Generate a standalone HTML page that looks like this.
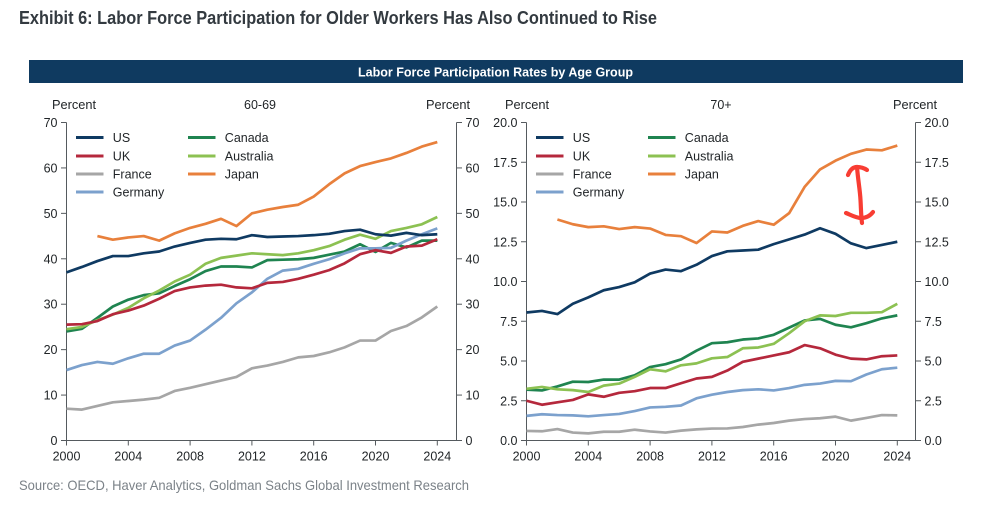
<!DOCTYPE html>
<html lang="en">
<head>
<meta charset="utf-8">
<title>Exhibit 6</title>
<style>
html,body{margin:0;padding:0;background:#fff;}
body{width:989px;height:509px;overflow:hidden;}
svg{display:block;font-family:"Liberation Sans",Arial,sans-serif;}
</style>
</head>
<body>
<svg id="root" width="989" height="509" viewBox="0 0 989 509" xmlns="http://www.w3.org/2000/svg">
  <rect x="0" y="0" width="989" height="509" fill="#ffffff"/>
  <text x="19" y="24" font-size="18" font-weight="700" fill="#333a40" textLength="638" lengthAdjust="spacingAndGlyphs">Exhibit 6: Labor Force Participation for Older Workers Has Also Continued to Rise</text>
  <rect x="29" y="60" width="934" height="23" fill="#0f3a60"/>
  <text x="358" y="76.500" font-size="12.500" font-weight="700" fill="#ffffff" textLength="275" lengthAdjust="spacingAndGlyphs">Labor Force Participation Rates by Age Group</text>
  <text x="19" y="490" font-size="14" fill="#7b8288" textLength="450" lengthAdjust="spacingAndGlyphs">Source: OECD, Haver Analytics, Goldman Sachs Global Investment Research</text>
  <g id="panel-left"></g>
  <g id="panel-right"></g>
  <g fill="none" stroke="#f83d33" stroke-width="4.200" stroke-linecap="round" stroke-linejoin="round">
    <path d="M848 175 C850 170 853 167 857 167 C861 167 864 168 867 170"/>
    <path d="M857 167 C858 180 860 190 860.500 200 C861 208 861 216 862 223"/>
    <path d="M846 213 C851 215 856 218 861 218 C866 218 870 216 873 212"/>
  </g>
</svg>
<script>
var years = [2000,2001,2002,2003,2004,2005,2006,2007,2008,2009,2010,2011,2012,2013,2014,2015,2016,2017,2018,2019,2020,2021,2022,2023,2024];
var xTickYears = [2000,2004,2008,2012,2016,2020,2024];

var seriesNames = ["Canada","Australia","Germany","France","UK","US","Japan"];

var ticksLeft = [0,10,20,30,40,50,60,70];
var ticksRight = [0,2.5,5,7.5,10,12.5,15,17.5,20];

var usLeft = [37,38.2,39.5,40.6,40.6,41.2,41.6,42.7,43.5,44.2,44.4,44.3,45.2,44.8,44.9,45,45.2,45.5,46.1,46.4,45.4,45.1,45.7,45.2,45.4];
var ukLeft = [25.5,25.6,26.3,27.8,28.6,29.7,31.2,32.9,33.7,34.1,34.3,33.7,33.5,34.7,34.9,35.6,36.5,37.5,39,41,41.9,41.3,42.7,42.9,44.3];
var franceLeft = [7,6.8,7.6,8.4,8.7,9,9.4,10.9,11.6,12.4,13.2,14,15.9,16.5,17.3,18.3,18.6,19.4,20.5,22,22,24.1,25.2,27.1,29.5];
var germanyLeft = [15.5,16.6,17.3,16.9,18.1,19.1,19.1,20.9,22,24.4,27,30.2,32.6,35.6,37.4,37.8,38.9,39.9,41.2,42.3,42.3,42.4,44,45.4,46.7];
var canadaLeft = [24,24.6,27,29.5,31,32,32.4,34,35.5,37.3,38.3,38.3,38.1,39.7,39.8,39.9,40.2,40.9,41.6,43.2,41.5,43.5,42.5,44,44];
var australiaLeft = [24.5,25,26.5,27.7,29.2,31.3,33,35,36.5,38.9,40.2,40.7,41.2,41,40.8,41.2,41.9,42.8,44.2,45.3,44.4,46.1,46.8,47.6,49.2];
var japanLeft = [null,null,45,44.2,44.7,45,44,45.6,46.8,47.7,48.8,47.2,50,50.8,51.4,51.9,53.7,56.4,58.8,60.4,61.3,62.1,63.3,64.7,65.7];

var usRight = [8.05,8.15,7.95,8.6,9,9.45,9.65,9.95,10.5,10.75,10.65,11.05,11.6,11.9,11.95,12,12.35,12.65,12.95,13.35,13,12.4,12.1,12.3,12.5];
var ukRight = [2.5,2.25,2.4,2.55,2.9,2.75,3,3.1,3.3,3.3,3.6,3.9,4,4.4,4.95,5.15,5.35,5.55,6,5.8,5.4,5.15,5.1,5.3,5.35];
var franceRight = [0.6,0.58,0.72,0.5,0.45,0.55,0.55,0.68,0.57,0.5,0.62,0.7,0.75,0.76,0.85,1,1.1,1.25,1.35,1.4,1.5,1.25,1.42,1.6,1.58];
var germanyRight = [1.55,1.65,1.6,1.58,1.52,1.6,1.67,1.85,2.08,2.12,2.2,2.65,2.88,3.05,3.17,3.22,3.15,3.3,3.5,3.58,3.75,3.73,4.15,4.48,4.58];
var canadaRight = [3.2,3.15,3.4,3.7,3.68,3.83,3.83,4.1,4.62,4.8,5.1,5.65,6.12,6.18,6.35,6.42,6.65,7.1,7.55,7.65,7.28,7.12,7.38,7.68,7.87];
var australiaRight = [3.25,3.37,3.22,3.17,3.05,3.45,3.58,4,4.48,4.35,4.73,4.85,5.17,5.25,5.8,5.85,6.08,6.75,7.5,7.87,7.83,8.03,8.03,8.07,8.6];
var japanRight = [null,null,13.9,13.6,13.42,13.47,13.3,13.42,13.33,12.93,12.85,12.42,13.15,13.08,13.5,13.8,13.57,14.3,15.95,17.05,17.6,18.03,18.3,18.25,18.55];

var NS = 'http://www.w3.org/2000/svg';
var COLORS = {US:'#0f3a62',UK:'#b5283c',France:'#a6a6a6',Germany:'#7ca1cd',Canada:'#1f8450',Australia:'#8cc152',Japan:'#e8803c'};
var AXIS = '#555a5e';
var INK = '#1f2326';

function mk(parent, tag, attrs, txt) {
  var el = document.createElementNS(NS, tag);
  for (var k in attrs) el.setAttribute(k, attrs[k]);
  if (txt !== undefined) el.textContent = txt;
  parent.appendChild(el);
  return el;
}
function slug(s) { return String(s).toLowerCase().replace(/[^a-z0-9]+/g, '-'); }

function drawPanel(parent, o) {
  var xScale = function (yr) { return o.x0 + (yr - 2000) * (o.x1 - o.x0) / 24; };
  var yScale = function (v) { return o.yBottom - v * (o.yBottom - o.yTop) / o.yMax; };

  var axes = mk(parent, 'path', {
    d: 'M' + o.x0 + ' ' + o.yTop + 'V' + o.yBottom + 'H' + o.axisRight + 'V' + o.yTop,
    fill: 'none', stroke: AXIS, 'stroke-width': 1
  });
  
  

  o.ticks.forEach(function (t) {
    var y = yScale(t);
    var lab = o.decimals ? t.toFixed(1) : String(t);
    var tl = mk(parent, 'path', {d: 'M' + (o.x0 - 5.5) + ' ' + y + 'H' + o.x0, stroke: AXIS, 'stroke-width': 1});
    
    
    var tr = mk(parent, 'path', {d: 'M' + o.axisRight + ' ' + y + 'H' + (o.axisRight + 5.5), stroke: AXIS, 'stroke-width': 1});
    
    
    var a = mk(parent, 'text', {x: o.x0 - 9, y: y + 4.5, 'font-size': 12.5, fill: INK, 'text-anchor': 'end'}, lab);
    
    
    var b = mk(parent, 'text', {x: o.axisRight + 9, y: y + 4.5, 'font-size': 12.5, fill: INK}, lab);
    
    
  });

  xTickYears.forEach(function (yr) {
    var x = xScale(yr);
    var t = mk(parent, 'path', {d: 'M' + x + ' ' + o.yBottom + 'V' + (o.yBottom + 5), stroke: AXIS, 'stroke-width': 1});
    
    
    var l = mk(parent, 'text', {x: x, y: o.yBottom + 20, 'font-size': 12.5, fill: INK, 'text-anchor': 'middle'}, yr);
    
    
  });

  var t1 = mk(parent, 'text', {x: o.unitLeftX, y: 109, 'font-size': 12.8, fill: INK}, 'Percent');
  
  
  var t2 = mk(parent, 'text', {x: o.unitRightX, y: 109, 'font-size': 12.8, fill: INK}, 'Percent');
  
  
  var t3 = mk(parent, 'text', {x: o.titleX, y: 109, 'font-size': 12.5, fill: INK, 'text-anchor': 'middle'}, o.title);
  
  

  seriesNames.forEach(function (name) {
    var d = '', pen = false;
    o.data[name].forEach(function (v, i) {
      if (v === null) { pen = false; return; }
      d += (pen ? 'L' : 'M') + xScale(years[i]).toFixed(2) + ' ' + yScale(v).toFixed(2);
      pen = true;
    });
    var p = mk(parent, 'path', {d: d, fill: 'none', stroke: COLORS[name], 'stroke-width': 2.7, 'stroke-linejoin': 'round'});
    
    
  });

  var rows = [
    ['US', 0, 137.5], ['UK', 0, 156], ['France', 0, 174], ['Germany', 0, 192],
    ['Canada', 1, 137.5], ['Australia', 1, 156], ['Japan', 1, 174]
  ];
  rows.forEach(function (r) {
    var lx = r[1] ? o.legX2 : o.legX1;
    var g = mk(parent, 'g', {});
    
    
    var sw = mk(g, 'path', {d: 'M' + lx + ' ' + r[2] + 'H' + (lx + 27.5), stroke: COLORS[r[0]], 'stroke-width': 3});
    
    
    var tx = mk(g, 'text', {x: lx + 36.8, y: r[2] + 4.5, 'font-size': 12.5, fill: INK}, r[0]);
    
    
  });
}

drawPanel(document.getElementById('panel-left'), {
  x0: 66.5, x1: 437.3, axisRight: 456.5, yTop: 122.5, yBottom: 440.5, yMax: 70,
  ticks: ticksLeft, decimals: false, title: '60-69', titleX: 260,
  unitLeftX: 52, unitRightX: 426, legX1: 76, legX2: 188,
  data: {US: usLeft, UK: ukLeft, France: franceLeft, Germany: germanyLeft, Canada: canadaLeft, Australia: australiaLeft, Japan: japanLeft}
});
drawPanel(document.getElementById('panel-right'), {
  x0: 526.5, x1: 897.3, axisRight: 915.5, yTop: 122.5, yBottom: 440.5, yMax: 20,
  ticks: ticksRight, decimals: true, title: '70+', titleX: 721,
  unitLeftX: 505, unitRightX: 893, legX1: 536, legX2: 648,
  data: {US: usRight, UK: ukRight, France: franceRight, Germany: germanyRight, Canada: canadaRight, Australia: australiaRight, Japan: japanRight}
});
</script>
</body>
</html>
